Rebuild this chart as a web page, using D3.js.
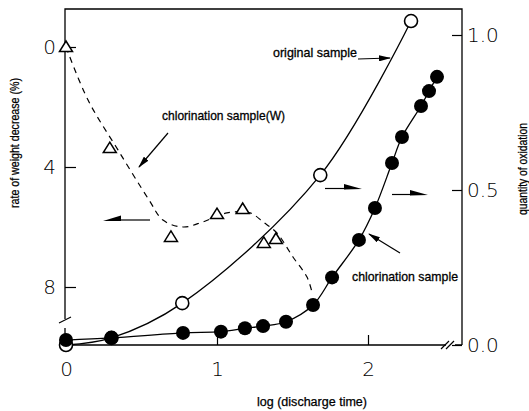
<!DOCTYPE html>
<html><head><meta charset="utf-8">
<script src="https://cdn.jsdelivr.net/npm/d3@7"></script>
<style>body{margin:0;background:#fff}svg{display:block}</style>
</head><body><svg id="c" width="529" height="411"></svg>
<script>
// ---- data ----
const xTickValues = [0, 1, 2];
const leftTickValues = [0, 4, 8];
const rightTickValues = [0.0, 0.5, 1.0];
// original sample (open circles, right axis: quantity of oxidation)
const originalX = [0, 0.301, 0.77, 1.684, 2.285];
const originalY = [0.0, 0.023, 0.135, 0.548, 1.045];
// chlorination sample (filled circles, right axis)
const chlorX = [0, 0.301, 0.775, 1.026, 1.185, 1.305, 1.457, 1.636, 1.762, 1.94, 2.046, 2.159, 2.225, 2.351, 2.404, 2.457];
const chlorY = [0.016, 0.023, 0.039, 0.043, 0.054, 0.061, 0.075, 0.129, 0.218, 0.339, 0.442, 0.587, 0.671, 0.771, 0.819, 0.865];
// chlorination sample (W) (triangles, left axis: rate of weight decrease %)
const weightX = [0, 0.29, 0.695, 1.0, 1.17, 1.31, 1.39];
const weightY = [0, 3.37, 6.33, 5.57, 5.4, 6.53, 6.4];
// hand-drawn dashed trend through the triangles
const weightFitX = [0, 0.146, 0.344, 0.55, 0.642, 0.775, 0.907, 1.066, 1.219, 1.305, 1.397, 1.503, 1.596, 1.629];
const weightFitY = [0, 1.77, 3.43, 5.1, 5.77, 6.0, 5.83, 5.53, 5.53, 5.83, 6.2, 7.0, 7.67, 8.17];

// ---- chart ----
const svg = d3.select('#c');
const x = d3.scaleLinear().domain([0, 2]).range([66, 368]);
const yL = d3.scaleLinear().domain([0, 8]).range([47, 287]);
const yR = d3.scaleLinear().domain([0, 1]).range([345, 35]);
const TF = 'Liberation Sans, Arial, sans-serif';
const NF = '"DejaVu Sans", sans-serif';

const defs = svg.append('defs');
defs.append('marker').attr('id', 'ah').attr('markerUnits', 'userSpaceOnUse')
  .attr('markerWidth', 12).attr('markerHeight', 6).attr('refX', 11).attr('refY', 3)
  .attr('orient', 'auto')
  .append('path').attr('d', 'M0,0 L12,3 L0,6 Z').attr('fill', '#000');

// frame
const frame = svg.append('g').attr('fill', 'none').attr('stroke', '#000').attr('stroke-width', 1.3);
frame.append('path').attr('d', 'M65,319 L65,9 L462,9 L462,345');
frame.append('path').attr('d', 'M65,328 L65,345 L446,345 M455,345 L462,345');
frame.append('path').attr('d', 'M59,323 L71,317').attr('stroke-width', 1.2);
frame.append('path').attr('d', 'M441,349 L449,341 M446,349 L454,341').attr('stroke-width', 1.2);

// axes
const axL = d3.axisLeft(yL).tickValues(leftTickValues).tickSizeInner(-11).tickSizeOuter(0).tickPadding(9)
  .tickFormat(d3.format('d'));
const gL = svg.append('g').attr('transform', 'translate(65,0)').call(axL);
const axR = d3.axisRight(yR).tickValues(rightTickValues).tickSizeInner(-10).tickSizeOuter(0).tickPadding(5)
  .tickFormat(d3.format('.1f'));
const gR = svg.append('g').attr('transform', 'translate(462,0)').call(axR);
const axB = d3.axisBottom(x).tickValues(xTickValues).tickSizeInner(-10).tickSizeOuter(0).tickPadding(17)
  .tickFormat(d3.format('d'));
const gB = svg.append('g').attr('transform', 'translate(0,345)').call(axB);
[gL, gR, gB].forEach(g => {
  g.select('.domain').remove();
  g.selectAll('line').attr('stroke', '#000').attr('stroke-width', 1.2);
  g.selectAll('text').attr('fill', '#000').style('font-family', NF).style('font-size', '20px').style('font-weight', 200);
});

// axis titles
const titles = svg.append('g').style('font-family', TF).style('font-size', '12px')
  .attr('stroke', '#000').attr('stroke-width', 0.25);
titles.append('text').attr('transform', 'translate(15,143) rotate(-90)').attr('dy', '0.35em')
  .attr('text-anchor', 'middle').attr('textLength', 130).attr('lengthAdjust', 'spacingAndGlyphs')
  .text('rate of weight decrease (%)');
titles.append('text').attr('transform', 'translate(523,169) rotate(-90)').attr('dy', '0.35em')
  .attr('text-anchor', 'middle').attr('textLength', 92).attr('lengthAdjust', 'spacingAndGlyphs')
  .text('quantity of oxidation');
titles.append('text').attr('x', 257).attr('y', 406).attr('textLength', 110).attr('lengthAdjust', 'spacingAndGlyphs')
  .text('log (discharge time)');

// lines
const dashed = d3.line().x(i => x(weightFitX[i])).y(i => yL(weightFitY[i])).curve(d3.curveCatmullRom.alpha(0.5));
svg.append('path').attr('d', dashed(d3.range(weightFitX.length)))
  .attr('fill', 'none').attr('stroke', '#000').attr('stroke-width', 1.2).attr('stroke-dasharray', '6,5');
const lineR = (xs, ys) => d3.line().x(i => x(xs[i])).y(i => yR(ys[i])).curve(d3.curveCatmullRom.alpha(0.5))(d3.range(xs.length));
svg.append('path').attr('d', lineR(originalX, originalY)).attr('fill', 'none').attr('stroke', '#000').attr('stroke-width', 1.3);
svg.append('path').attr('d', lineR(chlorX, chlorY)).attr('fill', 'none').attr('stroke', '#000').attr('stroke-width', 1.3);

// markers
svg.append('g').selectAll('path').data(d3.range(weightX.length)).join('path')
  .attr('transform', i => `translate(${x(weightX[i])},${yL(weightY[i])})`)
  .attr('d', 'M0,-6 L6.5,4.5 L-6.5,4.5 Z')
  .attr('fill', '#fff').attr('stroke', '#000').attr('stroke-width', 1.5);
svg.append('g').selectAll('circle').data(d3.range(originalX.length)).join('circle')
  .attr('cx', i => x(originalX[i])).attr('cy', i => yR(originalY[i])).attr('r', 6.5)
  .attr('fill', '#fff').attr('stroke', '#000').attr('stroke-width', 1.6);
svg.append('g').selectAll('circle').data(d3.range(chlorX.length)).join('circle')
  .attr('cx', i => x(chlorX[i])).attr('cy', i => yR(chlorY[i])).attr('r', 7)
  .attr('fill', '#000');

// annotations
const ann = svg.append('g').style('font-family', TF).style('font-size', '13px')
  .attr('stroke', '#000').attr('stroke-width', 0.3);
ann.append('text').attr('x', 273).attr('y', 57).attr('textLength', 84).attr('lengthAdjust', 'spacingAndGlyphs').text('original sample');
ann.append('text').attr('x', 162).attr('y', 120).attr('textLength', 123).attr('lengthAdjust', 'spacingAndGlyphs').text('chlorination sample(W)');
ann.append('text').attr('x', 352).attr('y', 281).attr('textLength', 106).attr('lengthAdjust', 'spacingAndGlyphs').text('chlorination sample');
const arr = svg.append('g').attr('stroke', '#000').attr('stroke-width', 1.2).attr('fill', 'none');
arr.append('path').attr('d', 'M358,59 L390,58').attr('marker-end', 'url(#ah)');
arr.append('path').attr('d', 'M168,133 L139,167').attr('marker-end', 'url(#ah)');
arr.append('path').attr('d', 'M400,253 L369,234').attr('marker-end', 'url(#ah)');
// harpoon arrows pointing to the axes
arr.append('path').attr('d', 'M121,220 L150,220');
arr.append('path').attr('d', 'M325,188.5 L346,188.5');
arr.append('path').attr('d', 'M392,194.5 L411,194.5');
const hp = svg.append('g').attr('fill', '#000');
hp.append('path').attr('d', 'M103,221 L121,215.5 L121,221 Z');
hp.append('path').attr('d', 'M362,189 L344,184 L344,189.5 Z');
hp.append('path').attr('d', 'M428,195 L410,190 L410,195.5 Z');
</script></body></html>
